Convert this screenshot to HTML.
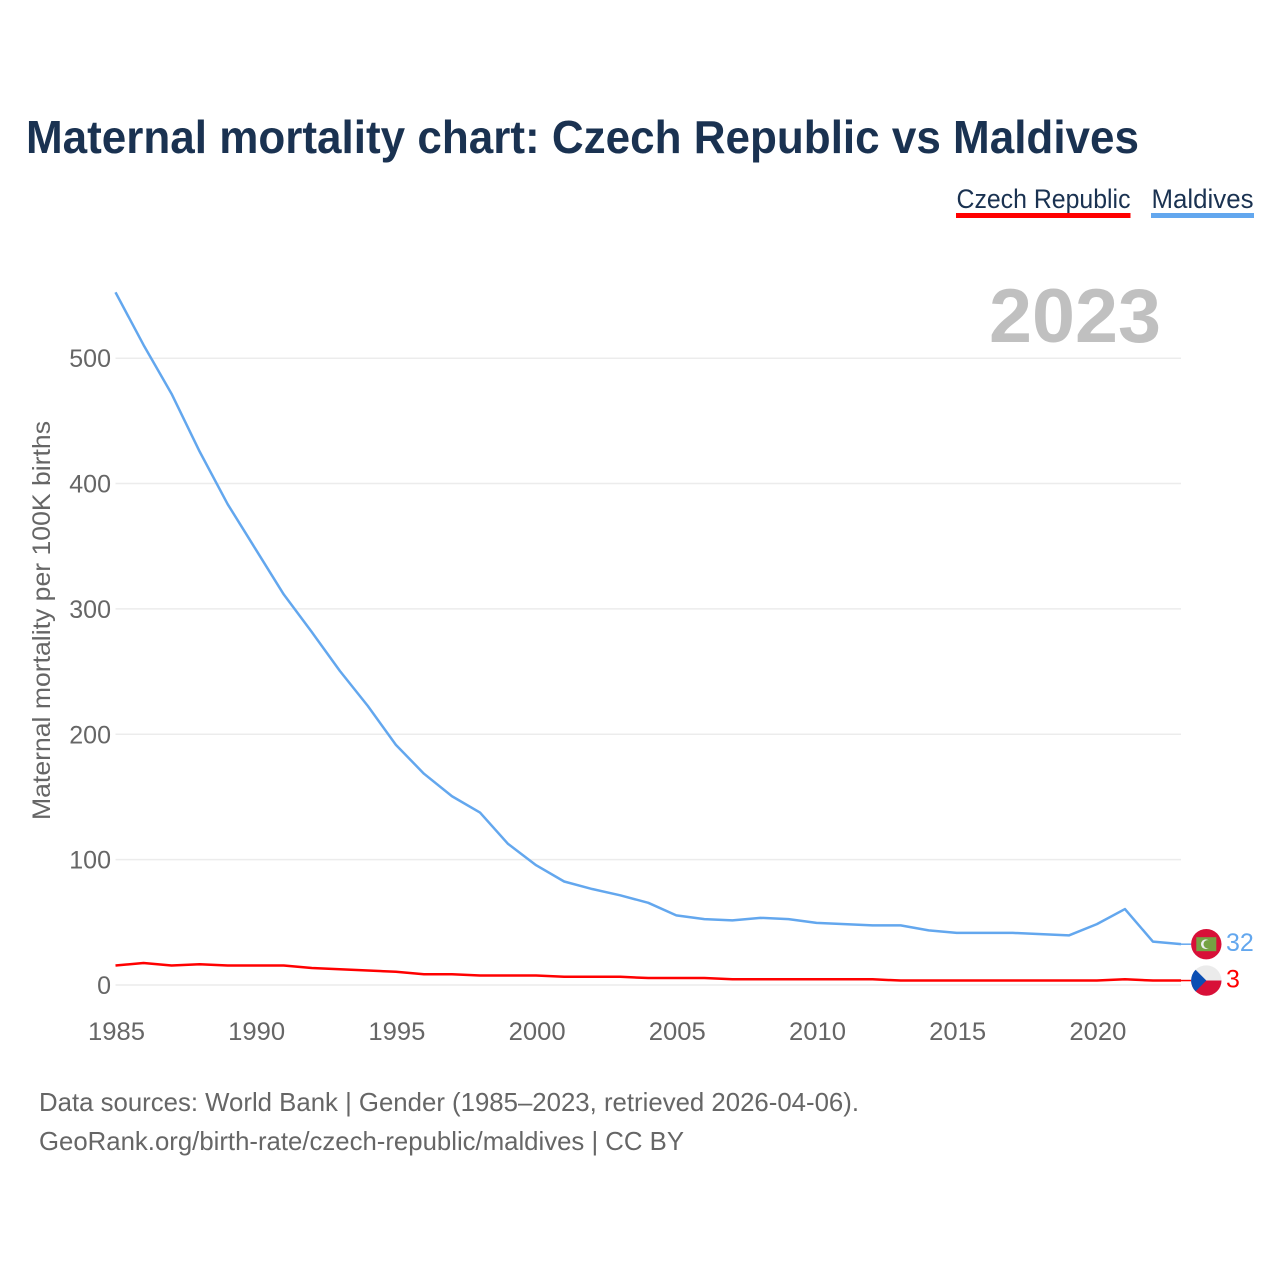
<!DOCTYPE html>
<html lang="en">
<head>
<meta charset="utf-8">
<title>Maternal mortality chart: Czech Republic vs Maldives</title>
<style>
html,body{margin:0;padding:0;background:#fff;width:1280px;height:1280px;overflow:hidden}
svg{display:block}
text{font-family:"Liberation Sans",sans-serif}
</style>
</head>
<body>
<svg id="chart" width="1280" height="1280" viewBox="0 0 1280 1280" xmlns="http://www.w3.org/2000/svg">
  <rect x="0" y="0" width="1280" height="1280" fill="#fff"/>
  <text x="26" y="153" font-size="46" font-weight="700" fill="#1a3251" textLength="1113" lengthAdjust="spacingAndGlyphs">Maternal mortality chart: Czech Republic vs Maldives</text>

  <g>
    <text x="956.500" y="208" font-size="27" fill="#1a3251" textLength="174" lengthAdjust="spacingAndGlyphs">Czech Republic</text>
    <rect x="956" y="213" width="174.500" height="5" fill="#ff0000"/>
  </g>
  <g>
    <text x="1151.500" y="208" font-size="27" fill="#1a3251" textLength="102" lengthAdjust="spacingAndGlyphs">Maldives</text>
    <rect x="1151" y="213" width="103" height="5" fill="#63a7ee"/>
  </g>

  <text x="1161" y="342" text-anchor="end" font-size="76" font-weight="700" fill="#c0c0c0" textLength="172" lengthAdjust="spacingAndGlyphs">2023</text>

  <g id="grid"></g>
  <g id="yticks"></g>
  <g id="xticks"></g>

  <text transform="translate(50,820) rotate(-90)" font-size="25" fill="#666666" textLength="399" lengthAdjust="spacingAndGlyphs">Maternal mortality per 100K births</text>

  <g id="series"></g>
  <g id="ends"></g>

  <g>
    <text x="39" y="1111" font-size="26" fill="#666666" textLength="820" lengthAdjust="spacingAndGlyphs">Data sources: World Bank | Gender (1985–2023, retrieved 2026-04-06).</text>
    <text x="39" y="1150" font-size="26" fill="#666666" textLength="645" lengthAdjust="spacingAndGlyphs">GeoRank.org/birth-rate/czech-republic/maldives | CC BY</text>
  </g>
</svg>
<script>
const startYear = 1985;
const maldivesValues = [552,510,471,425,383,347,311,281,250,222,191,168,150,137,112,95,82,76,71,65,55,52,51,53,52,49,48,47,47,43,41,41,41,40,39,48,60,34,32];
const czechValues = [15,17,15,16,15,15,15,13,12,11,10,8,8,7,7,7,6,6,6,5,5,5,4,4,4,4,4,4,3,3,3,3,3,3,3,3,4,3,3];
const yTickValues = [0,100,200,300,400,500];
const xTickValues = [1985,1990,1995,2000,2005,2010,2015,2020];

const NS = 'http://www.w3.org/2000/svg';
const xScale = function (year) { return 115.5 + (year - 1985) * 28.04; };
const yScale = function (value) { return 985 - value * 1.2536; };
const lineY = function (value) { return yScale(value) - 0.7; };
const XEND = xScale(2023);

function make(tag, attrs, parent, content) {
  const el = document.createElementNS(NS, tag);
  Object.keys(attrs).forEach(function (k) { el.setAttribute(k, attrs[k]); });
  if (content !== undefined) el.textContent = content;
  parent.appendChild(el);
  return el;
}

const grid = document.getElementById('grid');
const yticks = document.getElementById('yticks');
yTickValues.forEach(function (v) {
  const line = make('line', {x1: 115.5, x2: XEND, y1: yScale(v), y2: yScale(v), stroke: '#ececec', 'stroke-width': 1.5}, grid);
  
  
  const label = make('text', {x: 111, y: yScale(v) + 9, 'text-anchor': 'end', 'font-size': 25, fill: '#666666'}, yticks, String(v));
  
  
});

const xticks = document.getElementById('xticks');
xTickValues.forEach(function (y) {
  const label = make('text', {x: xScale(y) + 1, y: 1040, 'text-anchor': 'middle', 'font-size': 25, fill: '#666666', textLength: 57, lengthAdjust: 'spacingAndGlyphs'}, xticks, String(y));
  
  
});

function pathFor(values) {
  return values.map(function (v, i) {
    return (i ? 'L' : 'M') + xScale(startYear + i).toFixed(2) + ' ' + lineY(v).toFixed(2);
  }).join(' ');
}

const series = document.getElementById('series');
const czechLine = make('path', {d: pathFor(czechValues), fill: 'none', stroke: '#ff0000', 'stroke-width': 2.5, 'stroke-linejoin': 'round'}, series);


const maldivesLine = make('path', {d: pathFor(maldivesValues), fill: 'none', stroke: '#63a7ee', 'stroke-width': 2.5, 'stroke-linejoin': 'round'}, series);



const ends = document.getElementById('ends');
const FX = 1206.3;
const mv = maldivesValues[maldivesValues.length - 1];
const cv = czechValues[czechValues.length - 1];
const my = lineY(mv);
const cy = lineY(cv);

const mConn = make('line', {x1: XEND, x2: FX - 15, y1: my, y2: my, stroke: '#63a7ee', 'stroke-width': 1.5}, ends);


const cConn = make('line', {x1: XEND, x2: FX - 15, y1: cy, y2: cy, stroke: '#ff0000', 'stroke-width': 1.5}, ends);



/* Maldives flag */
const mFlag = make('g', {transform: 'translate(' + FX + ' ' + my + ')'}, ends);


make('circle', {r: 15.2, fill: '#d81038'}, mFlag);
make('rect', {x: -10, y: -7, width: 20, height: 14, fill: '#76a243'}, mFlag);
make('circle', {cx: -0.5, cy: 0, r: 4.8, fill: '#eeeeee'}, mFlag);
make('circle', {cx: 1.3, cy: 0, r: 4.1, fill: '#76a243'}, mFlag);

/* Czech flag */
const cFlag = make('g', {transform: 'translate(' + FX + ' ' + cy + ')'}, ends);


make('circle', {r: 15.2, fill: '#ebebeb'}, cFlag);
make('path', {d: 'M-15.2 0 A15.2 15.2 0 0 0 15.2 0 Z', fill: '#d81038'}, cFlag);
make('path', {d: 'M-10.7 -10.8 L0 0 L-10.7 10.8 A15.2 15.2 0 0 1 -10.7 -10.8 Z', fill: '#0b4eb3'}, cFlag);

const mLabel = make('text', {x: 1226, y: my + 7, 'font-size': 25, fill: '#63a7ee'}, ends, String(mv));


const cLabel = make('text', {x: 1226, y: cy + 7, 'font-size': 25, fill: '#ff0000'}, ends, String(cv));


</script>
</body>
</html>
